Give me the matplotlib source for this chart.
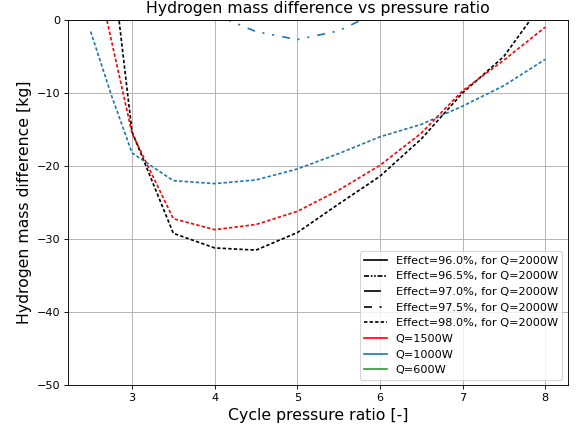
import numpy as np
import matplotlib.pyplot as plt
from matplotlib.lines import Line2D

# pressure ratio
ratio = [2.5, 2.75, 3, 3.5, 4, 4.5, 5, 5.5, 6, 6.5, 7, 7.5, 8]

# effect 98.0% curves for each Q
dm_2000 = [40, 9, -15.3, -29.2, -31.2, -31.5, -29.1, -25.2, -21.4, -16.3, -10.0, -5.0, 2.8]
dm_1500 = [10, -2.8, -15.5, -27.2, -28.7, -28.0, -26.2, -23.3, -19.9, -15.5, -9.7, -5.5, -1.0]
dm_1000 = [-1.6, -10.3, -18.2, -22.0, -22.4, -21.9, -20.4, -18.3, -16.0, -14.3, -11.8, -9.0, -5.4]

# effect 97.5%, Q=1000W (only the part near zero is visible)
ratio_975 = [4, 4.5, 5, 5.5, 6]
dm_1000_975 = [0.75, -1.6, -2.7, -1.5, 1.2]

effects = ['96.0', '96.5', '97.0', '97.5', '98.0']
dot = (0, (2, 1.3))
dashdotdot = (0, (4.7, 4.5, 1.2, 4.7, 1.2, 4.9))
styles = ['-', (0, (3, 1, 1, 1, 1, 1)), (0, (10, 5)), dashdotdot, dot]
heat = ['1500', '1000', '600']
heat_colors = ['red', 'C0', 'C2']

fig, ax = plt.subplots(figsize=(576 / 81, 432 / 81), dpi=81)

ax.plot(ratio, dm_2000, color='k', linestyle=dot, linewidth=1.5)
ax.plot(ratio, dm_1500, color='red', linestyle=dot, linewidth=1.5)
ax.plot(ratio, dm_1000, color='C0', linestyle=dot, linewidth=1.5)
ax.plot(ratio_975, dm_1000_975, color='C0', linestyle=dashdotdot, linewidth=1.5)

handles = []
labels = []
for e, s in zip(effects, styles):
    handles.append(Line2D([], [], color='k', linestyle=s, linewidth=1.5))
    labels.append(f'Effect={e}%, for Q=2000W')
for q, c in zip(heat, heat_colors):
    handles.append(Line2D([], [], color=c, linewidth=1.5))
    labels.append(f'Q={q}W')
ax.legend(handles, labels, loc='lower right', fontsize=10)

ax.set_ylim(-50, 0)
ax.set_title('Hydrogen mass difference vs pressure ratio', fontsize=14)
ax.set_xlabel('Cycle pressure ratio [-]', fontsize=14)
ax.set_ylabel('Hydrogen mass difference [kg]', fontsize=14)
ax.grid(True)

plt.subplots_adjust(left=0.118, right=0.986, top=0.954, bottom=0.108)
plt.savefig('out.png', dpi=81)
